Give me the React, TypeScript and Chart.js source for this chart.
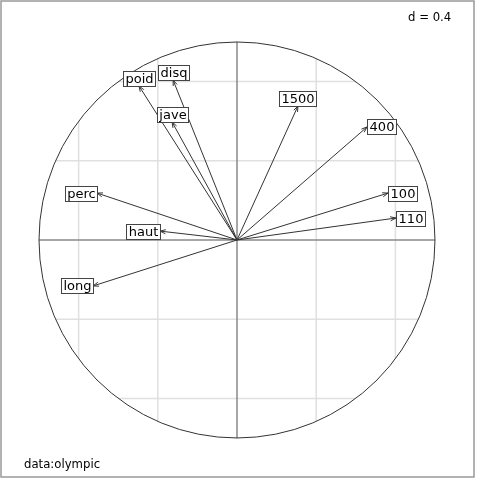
import React, { useEffect, useRef } from "react";
import { Chart, registerables } from "chart.js";

Chart.register(...registerables);

const variables = ["100", "long", "poid", "haut", "400", "110", "disq", "perc", "jave", "1500"];
const xValues = [0.763, -0.727, -0.495, -0.389, 0.657, 0.803, -0.323, -0.707, -0.328, 0.308];
const yValues = [0.237, -0.232, 0.778, 0.045, 0.571, 0.111, 0.808, 0.237, 0.596, 0.677];
const gridValues = [-0.8, -0.4, 0.4, 0.8];
const gridStepLabel = "d = 0.4";
const subtitle = "data:olympic";

const LABEL_FONT = '13px "DejaVu Sans", sans-serif';
const TEXT_FONT = '11.7px "DejaVu Sans", sans-serif';

const corcirclePlugin = {
  id: "corcircle",
  beforeDatasetsDraw(chart: any) {
    const { ctx, scales } = chart;
    const xs = scales.x, ys = scales.y;
    const cx = xs.getPixelForValue(0), cy = ys.getPixelForValue(0);
    const r = xs.getPixelForValue(1) - cx;
    ctx.save();
    ctx.strokeStyle = "#e0e0e0";
    ctx.lineWidth = 1.5;
    for (const v of gridValues) {
      const h = Math.sqrt(1 - v * v);
      ctx.beginPath();
      ctx.moveTo(xs.getPixelForValue(v), ys.getPixelForValue(-h));
      ctx.lineTo(xs.getPixelForValue(v), ys.getPixelForValue(h));
      ctx.stroke();
      ctx.beginPath();
      ctx.moveTo(xs.getPixelForValue(-h), ys.getPixelForValue(v));
      ctx.lineTo(xs.getPixelForValue(h), ys.getPixelForValue(v));
      ctx.stroke();
    }
    ctx.strokeStyle = "#8a8a8a";
    ctx.lineWidth = 1.5;
    ctx.beginPath();
    ctx.moveTo(xs.getPixelForValue(0), ys.getPixelForValue(-1));
    ctx.lineTo(xs.getPixelForValue(0), ys.getPixelForValue(1));
    ctx.moveTo(xs.getPixelForValue(-1), ys.getPixelForValue(0));
    ctx.lineTo(xs.getPixelForValue(1), ys.getPixelForValue(0));
    ctx.stroke();
    ctx.strokeStyle = "#333333";
    ctx.lineWidth = 1;
    ctx.beginPath();
    ctx.arc(cx, cy, r, 0, Math.PI * 2);
    ctx.stroke();
    ctx.restore();
  },
  afterDatasetsDraw(chart: any) {
    const { ctx, scales, chartArea } = chart;
    const xs = scales.x, ys = scales.y;
    const cx = xs.getPixelForValue(0), cy = ys.getPixelForValue(0);
    ctx.save();
    ctx.strokeStyle = "#333333";
    ctx.lineWidth = 1;
    for (let i = 0; i < variables.length; i++) {
      const px = xs.getPixelForValue(xValues[i]);
      const py = ys.getPixelForValue(yValues[i]);
      const ang = Math.atan2(py - cy, px - cx);
      const len = 6, spread = Math.PI / 9;
      ctx.beginPath();
      ctx.moveTo(px - len * Math.cos(ang - spread), py - len * Math.sin(ang - spread));
      ctx.lineTo(px, py);
      ctx.lineTo(px - len * Math.cos(ang + spread), py - len * Math.sin(ang + spread));
      ctx.stroke();
    }
    ctx.font = LABEL_FONT;
    ctx.textAlign = "center";
    ctx.textBaseline = "middle";
    for (let i = 0; i < variables.length; i++) {
      const px = xs.getPixelForValue(xValues[i]);
      const py = ys.getPixelForValue(yValues[i]);
      const txt = variables[i];
      const w = Math.round(ctx.measureText(txt).width + 4);
      const h = 15;
      let lx = px, ly = py;
      if (Math.abs(xValues[i]) > Math.abs(yValues[i])) {
        lx += (xValues[i] >= 0 ? 1 : -1) * w / 2;
      } else {
        ly += (yValues[i] >= 0 ? -1 : 1) * h / 2;
      }
      const bx = Math.round(lx - w / 2) + 0.5;
      const by = Math.round(ly - h / 2) + 0.5;
      ctx.fillStyle = "#ffffff";
      ctx.fillRect(bx, by, w, h);
      ctx.strokeStyle = "#444444";
      ctx.lineWidth = 1;
      ctx.strokeRect(bx, by, w, h);
      ctx.fillStyle = "#000000";
      ctx.fillText(txt, bx + w / 2, by + h / 2 + 0.5);
    }
    ctx.font = TEXT_FONT;
    ctx.textAlign = "left";
    ctx.textBaseline = "alphabetic";
    ctx.fillStyle = "#000000";
    ctx.fillText(gridStepLabel, 408, 21);
    ctx.fillText(subtitle, 24, 468);
    ctx.strokeStyle = "#999999";
    ctx.lineWidth = 1.5;
    ctx.strokeRect(chartArea.left, chartArea.top, chartArea.right - chartArea.left, chartArea.bottom - chartArea.top);
    ctx.restore();
  },
};

export default function App() {
  const ref = useRef<HTMLCanvasElement | null>(null);
  useEffect(() => {
    document.body.style.margin = "0";
    const datasets = variables.map((v, i) => ({
      label: v,
      data: [
        { x: 0, y: 0 },
        { x: xValues[i], y: yValues[i] },
      ],
      showLine: true,
      borderColor: "#333333",
      borderWidth: 1,
      pointRadius: 0,
      fill: false,
    }));
    const chart = new Chart(ref.current as HTMLCanvasElement, {
      type: "scatter",
      data: { datasets },
      options: {
        animation: false,
        responsive: false,
        maintainAspectRatio: false,
        layout: { padding: { left: 1, right: 6, top: 1, bottom: 3 } },
        plugins: { legend: { display: false }, tooltip: { enabled: false }, title: { display: false } },
        scales: {
          x: { type: "linear", min: -1.192, max: 1.197, display: false },
          y: { type: "linear", min: -1.197, max: 1.207, display: false },
        },
      },
      plugins: [corcirclePlugin],
    } as any);
    return () => chart.destroy();
  }, []);
  return <canvas ref={ref} width={480} height={480} style={{ display: "block" }} />;
}
